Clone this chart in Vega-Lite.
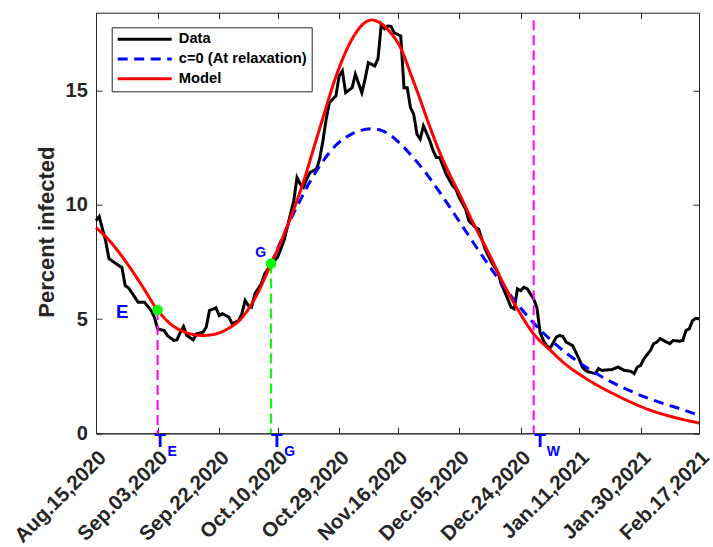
{
  "$schema": "https://vega.github.io/schema/vega-lite/v6.json",
  "width": 603,
  "height": 420.6,
  "autosize": {"type": "none"},
  "padding": {"left": 96, "top": 12.7, "right": 14, "bottom": 113.7},
  "background": "white",
  "config": {
    "view": {"stroke": "#262626", "strokeWidth": 1},
    "font": "Liberation Sans",
    "axis": {
      "grid": false,
      "domainColor": "#262626",
      "tickColor": "#262626",
      "tickSize": -6,
      "tickWidth": 1,
      "labelFont": "Liberation Sans",
      "labelFontWeight": "bold",
      "labelFontSize": 20,
      "labelColor": "#262626",
      "titleFont": "Liberation Sans",
      "titleFontWeight": "bold",
      "titleColor": "#262626"
    }
  },
  "datasets": {
    "observed": [
      {"date": "2020-08-15", "value": 9.3, "series": "Data"},
      {"date": "2020-08-16", "value": 9.48, "series": "Data"},
      {"date": "2020-08-18", "value": 8.4, "series": "Data"},
      {"date": "2020-08-19", "value": 7.64, "series": "Data"},
      {"date": "2020-08-22", "value": 7.34, "series": "Data"},
      {"date": "2020-08-23", "value": 7.26, "series": "Data"},
      {"date": "2020-08-24", "value": 6.46, "series": "Data"},
      {"date": "2020-08-25", "value": 6.37, "series": "Data"},
      {"date": "2020-08-27", "value": 5.95, "series": "Data"},
      {"date": "2020-08-28", "value": 5.73, "series": "Data"},
      {"date": "2020-08-30", "value": 5.73, "series": "Data"},
      {"date": "2020-08-31", "value": 5.55, "series": "Data"},
      {"date": "2020-09-01", "value": 5.37, "series": "Data"},
      {"date": "2020-09-02", "value": 5.08, "series": "Data"},
      {"date": "2020-09-03", "value": 4.57, "series": "Data"},
      {"date": "2020-09-05", "value": 4.5, "series": "Data"},
      {"date": "2020-09-06", "value": 4.28, "series": "Data"},
      {"date": "2020-09-08", "value": 4.06, "series": "Data"},
      {"date": "2020-09-09", "value": 4.09, "series": "Data"},
      {"date": "2020-09-10", "value": 4.42, "series": "Data"},
      {"date": "2020-09-11", "value": 4.67, "series": "Data"},
      {"date": "2020-09-12", "value": 4.28, "series": "Data"},
      {"date": "2020-09-14", "value": 4.09, "series": "Data"},
      {"date": "2020-09-15", "value": 4.35, "series": "Data"},
      {"date": "2020-09-17", "value": 4.42, "series": "Data"},
      {"date": "2020-09-18", "value": 4.64, "series": "Data"},
      {"date": "2020-09-19", "value": 5.37, "series": "Data"},
      {"date": "2020-09-21", "value": 5.49, "series": "Data"},
      {"date": "2020-09-22", "value": 5.15, "series": "Data"},
      {"date": "2020-09-23", "value": 5.23, "series": "Data"},
      {"date": "2020-09-25", "value": 5.08, "series": "Data"},
      {"date": "2020-09-26", "value": 4.79, "series": "Data"},
      {"date": "2020-09-28", "value": 4.93, "series": "Data"},
      {"date": "2020-09-29", "value": 5.23, "series": "Data"},
      {"date": "2020-09-30", "value": 5.81, "series": "Data"},
      {"date": "2020-10-01", "value": 5.59, "series": "Data"},
      {"date": "2020-10-02", "value": 5.52, "series": "Data"},
      {"date": "2020-10-03", "value": 6.1, "series": "Data"},
      {"date": "2020-10-05", "value": 6.54, "series": "Data"},
      {"date": "2020-10-06", "value": 6.97, "series": "Data"},
      {"date": "2020-10-08", "value": 7.38, "series": "Data"},
      {"date": "2020-10-10", "value": 7.7, "series": "Data"},
      {"date": "2020-10-12", "value": 8.43, "series": "Data"},
      {"date": "2020-10-13", "value": 9.01, "series": "Data"},
      {"date": "2020-10-14", "value": 9.59, "series": "Data"},
      {"date": "2020-10-15", "value": 10.17, "series": "Data"},
      {"date": "2020-10-16", "value": 11.19, "series": "Data"},
      {"date": "2020-10-17", "value": 10.9, "series": "Data"},
      {"date": "2020-10-18", "value": 10.76, "series": "Data"},
      {"date": "2020-10-19", "value": 11.12, "series": "Data"},
      {"date": "2020-10-20", "value": 11.41, "series": "Data"},
      {"date": "2020-10-22", "value": 11.56, "series": "Data"},
      {"date": "2020-10-23", "value": 12.0, "series": "Data"},
      {"date": "2020-10-24", "value": 12.8, "series": "Data"},
      {"date": "2020-10-25", "value": 13.74, "series": "Data"},
      {"date": "2020-10-26", "value": 14.47, "series": "Data"},
      {"date": "2020-10-28", "value": 14.76, "series": "Data"},
      {"date": "2020-10-29", "value": 15.63, "series": "Data"},
      {"date": "2020-10-30", "value": 15.85, "series": "Data"},
      {"date": "2020-10-31", "value": 14.9, "series": "Data"},
      {"date": "2020-11-02", "value": 15.12, "series": "Data"},
      {"date": "2020-11-03", "value": 15.71, "series": "Data"},
      {"date": "2020-11-05", "value": 14.9, "series": "Data"},
      {"date": "2020-11-06", "value": 15.49, "series": "Data"},
      {"date": "2020-11-07", "value": 16.21, "series": "Data"},
      {"date": "2020-11-09", "value": 16.07, "series": "Data"},
      {"date": "2020-11-10", "value": 16.4, "series": "Data"},
      {"date": "2020-11-11", "value": 17.89, "series": "Data"},
      {"date": "2020-11-12", "value": 17.7, "series": "Data"},
      {"date": "2020-11-13", "value": 17.82, "series": "Data"},
      {"date": "2020-11-14", "value": 17.8, "series": "Data"},
      {"date": "2020-11-15", "value": 17.52, "series": "Data"},
      {"date": "2020-11-17", "value": 17.38, "series": "Data"},
      {"date": "2020-11-18", "value": 15.12, "series": "Data"},
      {"date": "2020-11-19", "value": 15.12, "series": "Data"},
      {"date": "2020-11-20", "value": 14.25, "series": "Data"},
      {"date": "2020-11-21", "value": 13.96, "series": "Data"},
      {"date": "2020-11-22", "value": 13.09, "series": "Data"},
      {"date": "2020-11-23", "value": 12.87, "series": "Data"},
      {"date": "2020-11-24", "value": 13.45, "series": "Data"},
      {"date": "2020-11-26", "value": 12.79, "series": "Data"},
      {"date": "2020-11-27", "value": 12.36, "series": "Data"},
      {"date": "2020-11-28", "value": 12.07, "series": "Data"},
      {"date": "2020-11-29", "value": 12.07, "series": "Data"},
      {"date": "2020-12-01", "value": 11.34, "series": "Data"},
      {"date": "2020-12-03", "value": 10.83, "series": "Data"},
      {"date": "2020-12-04", "value": 10.69, "series": "Data"},
      {"date": "2020-12-05", "value": 10.32, "series": "Data"},
      {"date": "2020-12-07", "value": 9.81, "series": "Data"},
      {"date": "2020-12-08", "value": 9.3, "series": "Data"},
      {"date": "2020-12-10", "value": 9.01, "series": "Data"},
      {"date": "2020-12-11", "value": 8.94, "series": "Data"},
      {"date": "2020-12-13", "value": 8.07, "series": "Data"},
      {"date": "2020-12-15", "value": 7.48, "series": "Data"},
      {"date": "2020-12-17", "value": 7.04, "series": "Data"},
      {"date": "2020-12-18", "value": 6.54, "series": "Data"},
      {"date": "2020-12-20", "value": 5.88, "series": "Data"},
      {"date": "2020-12-21", "value": 5.52, "series": "Data"},
      {"date": "2020-12-22", "value": 5.44, "series": "Data"},
      {"date": "2020-12-23", "value": 6.32, "series": "Data"},
      {"date": "2020-12-24", "value": 6.24, "series": "Data"},
      {"date": "2020-12-25", "value": 6.39, "series": "Data"},
      {"date": "2020-12-26", "value": 6.32, "series": "Data"},
      {"date": "2020-12-28", "value": 5.88, "series": "Data"},
      {"date": "2020-12-29", "value": 5.5, "series": "Data"},
      {"date": "2020-12-30", "value": 4.4, "series": "Data"},
      {"date": "2020-12-31", "value": 4.06, "series": "Data"},
      {"date": "2021-01-01", "value": 3.84, "series": "Data"},
      {"date": "2021-01-02", "value": 3.7, "series": "Data"},
      {"date": "2021-01-04", "value": 4.21, "series": "Data"},
      {"date": "2021-01-05", "value": 4.28, "series": "Data"},
      {"date": "2021-01-06", "value": 4.24, "series": "Data"},
      {"date": "2021-01-07", "value": 3.99, "series": "Data"},
      {"date": "2021-01-09", "value": 3.84, "series": "Data"},
      {"date": "2021-01-10", "value": 3.55, "series": "Data"},
      {"date": "2021-01-11", "value": 3.26, "series": "Data"},
      {"date": "2021-01-12", "value": 2.9, "series": "Data"},
      {"date": "2021-01-13", "value": 2.75, "series": "Data"},
      {"date": "2021-01-14", "value": 2.68, "series": "Data"},
      {"date": "2021-01-16", "value": 2.61, "series": "Data"},
      {"date": "2021-01-17", "value": 2.83, "series": "Data"},
      {"date": "2021-01-18", "value": 2.75, "series": "Data"},
      {"date": "2021-01-20", "value": 2.78, "series": "Data"},
      {"date": "2021-01-21", "value": 2.78, "series": "Data"},
      {"date": "2021-01-23", "value": 2.9, "series": "Data"},
      {"date": "2021-01-25", "value": 2.75, "series": "Data"},
      {"date": "2021-01-27", "value": 2.71, "series": "Data"},
      {"date": "2021-01-28", "value": 2.61, "series": "Data"},
      {"date": "2021-01-29", "value": 2.9, "series": "Data"},
      {"date": "2021-01-30", "value": 2.97, "series": "Data"},
      {"date": "2021-01-31", "value": 3.26, "series": "Data"},
      {"date": "2021-02-02", "value": 3.62, "series": "Data"},
      {"date": "2021-02-03", "value": 3.92, "series": "Data"},
      {"date": "2021-02-04", "value": 3.99, "series": "Data"},
      {"date": "2021-02-05", "value": 4.14, "series": "Data"},
      {"date": "2021-02-07", "value": 3.99, "series": "Data"},
      {"date": "2021-02-08", "value": 3.92, "series": "Data"},
      {"date": "2021-02-09", "value": 4.06, "series": "Data"},
      {"date": "2021-02-11", "value": 4.03, "series": "Data"},
      {"date": "2021-02-12", "value": 4.06, "series": "Data"},
      {"date": "2021-02-13", "value": 4.5, "series": "Data"},
      {"date": "2021-02-14", "value": 4.57, "series": "Data"},
      {"date": "2021-02-15", "value": 4.93, "series": "Data"},
      {"date": "2021-02-16", "value": 5.03, "series": "Data"},
      {"date": "2021-02-17", "value": 5.01, "series": "Data"}
    ],
    "curves": [
      {"date": "2020-10-08", "value": 7.41, "series": "c=0 (At relaxation)"},
      {"date": "2020-10-11", "value": 8.4, "series": "c=0 (At relaxation)"},
      {"date": "2020-10-14", "value": 9.35, "series": "c=0 (At relaxation)"},
      {"date": "2020-10-17", "value": 10.2, "series": "c=0 (At relaxation)"},
      {"date": "2020-10-20", "value": 11.0, "series": "c=0 (At relaxation)"},
      {"date": "2020-10-24", "value": 11.9, "series": "c=0 (At relaxation)"},
      {"date": "2020-10-28", "value": 12.6, "series": "c=0 (At relaxation)"},
      {"date": "2020-11-02", "value": 13.1, "series": "c=0 (At relaxation)"},
      {"date": "2020-11-08", "value": 13.32, "series": "c=0 (At relaxation)"},
      {"date": "2020-11-11", "value": 13.25, "series": "c=0 (At relaxation)"},
      {"date": "2020-11-14", "value": 13.02, "series": "c=0 (At relaxation)"},
      {"date": "2020-11-17", "value": 12.65, "series": "c=0 (At relaxation)"},
      {"date": "2020-11-20", "value": 12.2, "series": "c=0 (At relaxation)"},
      {"date": "2020-11-23", "value": 11.7, "series": "c=0 (At relaxation)"},
      {"date": "2020-11-26", "value": 11.15, "series": "c=0 (At relaxation)"},
      {"date": "2020-11-29", "value": 10.55, "series": "c=0 (At relaxation)"},
      {"date": "2020-12-02", "value": 9.92, "series": "c=0 (At relaxation)"},
      {"date": "2020-12-05", "value": 9.28, "series": "c=0 (At relaxation)"},
      {"date": "2020-12-08", "value": 8.64, "series": "c=0 (At relaxation)"},
      {"date": "2020-12-11", "value": 8.0, "series": "c=0 (At relaxation)"},
      {"date": "2020-12-14", "value": 7.38, "series": "c=0 (At relaxation)"},
      {"date": "2020-12-17", "value": 6.78, "series": "c=0 (At relaxation)"},
      {"date": "2020-12-20", "value": 6.2, "series": "c=0 (At relaxation)"},
      {"date": "2020-12-24", "value": 5.48, "series": "c=0 (At relaxation)"},
      {"date": "2020-12-28", "value": 4.82, "series": "c=0 (At relaxation)"},
      {"date": "2021-01-02", "value": 4.12, "series": "c=0 (At relaxation)"},
      {"date": "2021-01-07", "value": 3.52, "series": "c=0 (At relaxation)"},
      {"date": "2021-01-12", "value": 3.0, "series": "c=0 (At relaxation)"},
      {"date": "2021-01-17", "value": 2.56, "series": "c=0 (At relaxation)"},
      {"date": "2021-01-22", "value": 2.17, "series": "c=0 (At relaxation)"},
      {"date": "2021-01-27", "value": 1.84, "series": "c=0 (At relaxation)"},
      {"date": "2021-02-01", "value": 1.55, "series": "c=0 (At relaxation)"},
      {"date": "2021-02-06", "value": 1.3, "series": "c=0 (At relaxation)"},
      {"date": "2021-02-11", "value": 1.08, "series": "c=0 (At relaxation)"},
      {"date": "2021-02-17", "value": 0.79, "series": "c=0 (At relaxation)"},
      {"date": "2020-08-15", "value": 9.0, "series": "Model"},
      {"date": "2020-08-19", "value": 8.45, "series": "Model"},
      {"date": "2020-08-24", "value": 7.55, "series": "Model"},
      {"date": "2020-08-29", "value": 6.5, "series": "Model"},
      {"date": "2020-09-03", "value": 5.39, "series": "Model"},
      {"date": "2020-09-07", "value": 4.78, "series": "Model"},
      {"date": "2020-09-11", "value": 4.45, "series": "Model"},
      {"date": "2020-09-14", "value": 4.32, "series": "Model"},
      {"date": "2020-09-17", "value": 4.28, "series": "Model"},
      {"date": "2020-09-21", "value": 4.35, "series": "Model"},
      {"date": "2020-09-25", "value": 4.6, "series": "Model"},
      {"date": "2020-09-29", "value": 5.05, "series": "Model"},
      {"date": "2020-10-03", "value": 5.9, "series": "Model"},
      {"date": "2020-10-08", "value": 7.41, "series": "Model"},
      {"date": "2020-10-12", "value": 8.7, "series": "Model"},
      {"date": "2020-10-15", "value": 9.8, "series": "Model"},
      {"date": "2020-10-18", "value": 11.0, "series": "Model"},
      {"date": "2020-10-21", "value": 12.4, "series": "Model"},
      {"date": "2020-10-24", "value": 13.8, "series": "Model"},
      {"date": "2020-10-28", "value": 15.6, "series": "Model"},
      {"date": "2020-11-02", "value": 17.25, "series": "Model"},
      {"date": "2020-11-05", "value": 17.85, "series": "Model"},
      {"date": "2020-11-08", "value": 18.08, "series": "Model"},
      {"date": "2020-11-11", "value": 17.92, "series": "Model"},
      {"date": "2020-11-14", "value": 17.5, "series": "Model"},
      {"date": "2020-11-17", "value": 16.85, "series": "Model"},
      {"date": "2020-11-20", "value": 15.75, "series": "Model"},
      {"date": "2020-11-23", "value": 14.6, "series": "Model"},
      {"date": "2020-11-26", "value": 13.4, "series": "Model"},
      {"date": "2020-11-29", "value": 12.3, "series": "Model"},
      {"date": "2020-12-02", "value": 11.35, "series": "Model"},
      {"date": "2020-12-05", "value": 10.5, "series": "Model"},
      {"date": "2020-12-09", "value": 9.3, "series": "Model"},
      {"date": "2020-12-14", "value": 7.92, "series": "Model"},
      {"date": "2020-12-19", "value": 6.46, "series": "Model"},
      {"date": "2020-12-23", "value": 5.44, "series": "Model"},
      {"date": "2020-12-28", "value": 4.35, "series": "Model"},
      {"date": "2021-01-02", "value": 3.65, "series": "Model"},
      {"date": "2021-01-07", "value": 3.0, "series": "Model"},
      {"date": "2021-01-12", "value": 2.5, "series": "Model"},
      {"date": "2021-01-17", "value": 2.07, "series": "Model"},
      {"date": "2021-01-22", "value": 1.7, "series": "Model"},
      {"date": "2021-01-27", "value": 1.36, "series": "Model"},
      {"date": "2021-02-01", "value": 1.06, "series": "Model"},
      {"date": "2021-02-06", "value": 0.83, "series": "Model"},
      {"date": "2021-02-11", "value": 0.64, "series": "Model"},
      {"date": "2021-02-17", "value": 0.45, "series": "Model"}
    ],
    "markers": [
      {"name": "E", "date": "2020-09-03", "value": 5.39},
      {"name": "G", "date": "2020-10-08", "value": 7.43},
      {"name": "W", "date": "2020-12-28", "value": 18.07}
    ],
    "tlabels": [
      {"role": "main", "text": "T", "date": "2020-09-03T17:45:00Z"},
      {"role": "sub", "text": "E", "date": "2020-09-07T12:00:00Z"},
      {"role": "main", "text": "T", "date": "2020-10-09T17:45:00Z"},
      {"role": "sub", "text": "G", "date": "2020-10-13T18:00:00Z"},
      {"role": "main", "text": "T", "date": "2020-12-29T22:48:00Z"},
      {"role": "sub", "text": "W", "date": "2021-01-03T01:30:00Z"}
    ]
  },
  "layer": [
    {
      "data": {"name": "observed"},
      "mark": {"type": "line", "strokeWidth": 3},
      "encoding": {
        "x": {
          "field": "date", "type": "temporal",
          "scale": {"type": "utc", "domain": [{"year": 2020, "month": 8, "date": 15, "utc": true}, {"year": 2021, "month": 2, "date": 17, "utc": true}]},
          "axis": {
            "orient": "bottom", "title": null,
            "values": [
              {"year": 2020, "month": 8, "date": 15, "utc": true},
              {"year": 2020, "month": 9, "date": 3, "utc": true},
              {"year": 2020, "month": 9, "date": 22, "utc": true},
              {"year": 2020, "month": 10, "date": 10, "utc": true},
              {"year": 2020, "month": 10, "date": 29, "utc": true},
              {"year": 2020, "month": 11, "date": 16, "utc": true},
              {"year": 2020, "month": 12, "date": 5, "utc": true},
              {"year": 2020, "month": 12, "date": 24, "utc": true},
              {"year": 2021, "month": 1, "date": 11, "utc": true},
              {"year": 2021, "month": 1, "date": 30, "utc": true},
              {"year": 2021, "month": 2, "date": 17, "utc": true}
            ],
            "labelExpr": "utcFormat(datum.value, '%b.%d,%Y')",
            "labelFontSize": 20.5,
            "labelAngle": -45, "labelAlign": "right", "labelBaseline": "middle",
            "labelPadding": 27, "labelOffset": 6.5, "labelFlush": false, "labelOverlap": false, "labelBound": false
          }
        },
        "y": {
          "field": "value", "type": "quantitative",
          "scale": {"domain": [0, 18.4], "nice": false},
          "axis": {
            "orient": "left", "values": [0, 5, 10, 15], "labelPadding": 14.7,
            "title": "Percent infected", "titleFontSize": 22,
            "titleX": -50, "titleY": 219, "titleAngle": -90, "titleAlign": "center", "titleBaseline": "middle"
          }
        },
        "color": {
          "field": "series", "type": "nominal",
          "scale": {"domain": ["Data", "c=0 (At relaxation)", "Model"], "range": ["#000000", "#0000FF", "#FF0000"]},
          "legend": {"title": null, "orient": "none", "legendX": 15.7, "legendY": 14.6, "symbolType": "stroke", "symbolSize": 2916, "symbolStrokeWidth": 3, "clipHeight": 15, "rowPadding": 3.7, "padding": 4.5, "labelFont": "Liberation Sans", "labelFontSize": 14.7, "labelFontWeight": "bold", "labelColor": "#000000", "labelOffset": 5.6, "strokeColor": "#262626", "fillColor": "#ffffff"}
        },
        "strokeDash": {
          "field": "series", "type": "nominal",
          "scale": {"domain": ["Data", "c=0 (At relaxation)", "Model"], "range": [[1, 0], [10, 6.5], [1, 0]]},
          "legend": {"title": null, "orient": "none", "legendX": 15.7, "legendY": 14.6, "symbolType": "stroke", "symbolSize": 2916, "symbolStrokeWidth": 3, "clipHeight": 15, "rowPadding": 3.7, "padding": 4.5, "labelFont": "Liberation Sans", "labelFontSize": 14.7, "labelFontWeight": "bold", "labelColor": "#000000", "labelOffset": 5.6, "strokeColor": "#262626", "fillColor": "#ffffff"}
        }
      }
    },
    {
      "data": {"name": "curves"},
      "mark": {"type": "line", "strokeWidth": 3, "interpolate": "monotone"},
      "encoding": {
        "x": {
          "field": "date", "type": "temporal",
          "axis": {
            "orient": "top", "title": null, "labels": false, "domain": false,
            "values": [
              {"year": 2020, "month": 8, "date": 15, "utc": true},
              {"year": 2020, "month": 9, "date": 3, "utc": true},
              {"year": 2020, "month": 9, "date": 22, "utc": true},
              {"year": 2020, "month": 10, "date": 10, "utc": true},
              {"year": 2020, "month": 10, "date": 29, "utc": true},
              {"year": 2020, "month": 11, "date": 16, "utc": true},
              {"year": 2020, "month": 12, "date": 5, "utc": true},
              {"year": 2020, "month": 12, "date": 24, "utc": true},
              {"year": 2021, "month": 1, "date": 11, "utc": true},
              {"year": 2021, "month": 1, "date": 30, "utc": true},
              {"year": 2021, "month": 2, "date": 17, "utc": true}
            ]
          }
        },
        "y": {
          "field": "value", "type": "quantitative",
          "axis": {"orient": "right", "title": null, "labels": false, "domain": false, "values": [0, 5, 10, 15]}
        },
        "color": {"field": "series", "type": "nominal"},
        "strokeDash": {"field": "series", "type": "nominal"}
      }
    },
    {
      "data": {"name": "markers"},
      "transform": [{"filter": "datum.name !== 'G'"}],
      "mark": {"type": "rule", "color": "#FF00FF", "strokeWidth": 2, "strokeDash": [10, 5]},
      "encoding": {
        "x": {"field": "date", "type": "temporal", "axis": null},
        "y": {"field": "value", "type": "quantitative", "axis": null},
        "y2": {"datum": 0}
      }
    },
    {
      "data": {"name": "markers"},
      "transform": [{"filter": "datum.name === 'G'"}],
      "mark": {"type": "rule", "color": "#00FF00", "strokeWidth": 2, "strokeDash": [10, 5]},
      "encoding": {
        "x": {"field": "date", "type": "temporal", "axis": null},
        "y": {"field": "value", "type": "quantitative", "axis": null},
        "y2": {"datum": 0}
      }
    },
    {
      "data": {"name": "markers"},
      "transform": [{"filter": "datum.name !== 'W'"}],
      "mark": {"type": "circle", "color": "#00FF00", "size": 110, "opacity": 1},
      "encoding": {
        "x": {"field": "date", "type": "temporal", "axis": null},
        "y": {"field": "value", "type": "quantitative", "axis": null}
      }
    },
    {
      "data": {"name": "markers"},
      "transform": [{"filter": "datum.name === 'E'"}],
      "mark": {"type": "text", "color": "#0000FF", "fontSize": 18.6, "fontWeight": "bold", "font": "Liberation Sans", "align": "center", "baseline": "middle", "dx": -35.5, "dy": 1.5},
      "encoding": {
        "x": {"field": "date", "type": "temporal", "axis": null},
        "y": {"field": "value", "type": "quantitative", "axis": null},
        "text": {"field": "name"}
      }
    },
    {
      "data": {"name": "markers"},
      "transform": [{"filter": "datum.name === 'G'"}],
      "mark": {"type": "text", "color": "#0000FF", "fontSize": 14, "fontWeight": "bold", "font": "Liberation Sans", "align": "center", "baseline": "middle", "dx": -10.3, "dy": -10.3},
      "encoding": {
        "x": {"field": "date", "type": "temporal", "axis": null},
        "y": {"field": "value", "type": "quantitative", "axis": null},
        "text": {"field": "name"}
      }
    },
    {
      "data": {"name": "tlabels"},
      "transform": [{"filter": "datum.role === 'main'"}],
      "mark": {"type": "text", "color": "#0000FF", "fontSize": 19, "fontWeight": "bold", "font": "Liberation Sans", "align": "center", "baseline": "alphabetic", "dy": 13.4},
      "encoding": {
        "x": {"field": "date", "type": "temporal", "axis": null},
        "y": {"datum": 0, "type": "quantitative", "axis": null},
        "text": {"field": "text"}
      }
    },
    {
      "data": {"name": "tlabels"},
      "transform": [{"filter": "datum.role === 'sub'"}],
      "mark": {"type": "text", "color": "#0000FF", "fontSize": 14, "fontWeight": "bold", "font": "Liberation Sans", "align": "center", "baseline": "alphabetic", "dy": 22.4},
      "encoding": {
        "x": {"field": "date", "type": "temporal", "axis": null},
        "y": {"datum": 0, "type": "quantitative", "axis": null},
        "text": {"field": "text"}
      }
    }
  ],
  "resolve": {"axis": {"x": "independent", "y": "independent"}}
}
